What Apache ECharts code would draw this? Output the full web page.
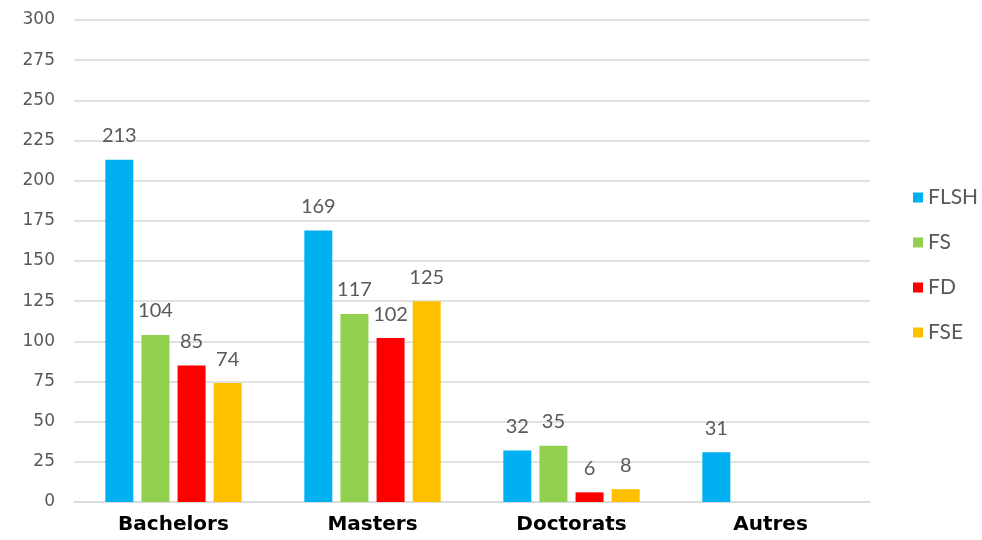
<!DOCTYPE html>
<html><head><meta charset="utf-8">
<script src="https://cdn.jsdelivr.net/npm/echarts@6/dist/echarts.min.js"></script>
<style>html,body{margin:0;padding:0;background:#fff}#c{width:982px;height:540px}</style>
</head><body><div id="c"></div>
<script>
const categories = ['Bachelors', 'Masters', 'Doctorats', 'Autres'];
const FLSH = [213, 169, 32, 31];
const FS = [104, 117, 35, null];
const FD = [85, 102, 6, null];
const FSE = [74, 125, 8, null];
const seriesNames = ['FLSH', 'FS', 'FD', 'FSE'];
const colors = ['#00B0F0', '#92D050', '#FF0000', '#FFC000'];
const values = [FLSH, FS, FD, FSE];

const chart = echarts.init(document.getElementById('c'));
const font = 'DejaVu Sans';
const font2 = 'Lato';
chart.setOption({
  animation: false,
  textStyle: { fontFamily: font },
  grid: { left: 74, right: 112, top: 20, bottom: 38, containLabel: false },
  legend: {
    orient: 'vertical', left: 908, top: 182,
    itemWidth: 10, itemHeight: 10, itemGap: 24,
    icon: 'rect',
    textStyle: { fontFamily: font2, fontSize: 21, color: '#595959' },
    data: seriesNames
  },
  xAxis: {
    type: 'category', data: categories,
    axisLine: { lineStyle: { color: '#D9D9D9', width: 1.5 } },
    axisTick: { show: false },
    axisLabel: { fontFamily: font, fontSize: 20, fontWeight: 'bold', color: '#000', margin: 13 }
  },
  yAxis: {
    type: 'value', min: 0, max: 300, interval: 25,
    axisLine: { show: false }, axisTick: { show: false },
    splitLine: { lineStyle: { color: '#D9D9D9', width: 1.5 } },
    axisLabel: { fontFamily: font, fontSize: 17, color: '#595959', margin: 19 }
  },
  series: seriesNames.map((n, i) => ({
    name: n, type: 'bar', data: values[i],
    barWidth: 28, barGap: '29%', barCategoryGap: '31%',
    itemStyle: { color: colors[i] },
    label: { show: true, position: 'top', distance: 14, fontFamily: font2, fontSize: 20, color: '#595959' }
  }))
});
</script></body></html>
